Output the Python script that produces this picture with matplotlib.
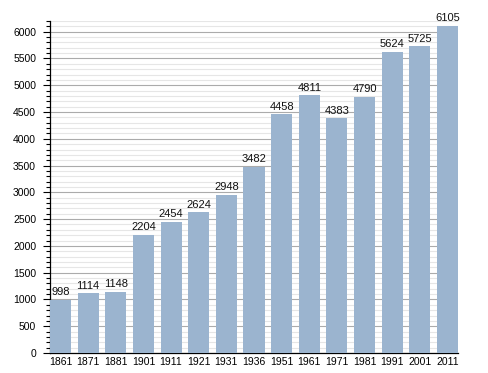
import matplotlib
matplotlib.use("Agg")
import matplotlib.pyplot as plt
from matplotlib.ticker import MultipleLocator

years = ["1861", "1871", "1881", "1901", "1911", "1921", "1931", "1936",
         "1951", "1961", "1971", "1981", "1991", "2001", "2011"]
population = [998, 1114, 1148, 2204, 2454, 2624, 2948, 3482,
              4458, 4811, 4383, 4790, 5624, 5725, 6105]

plt.rcParams['font.family'] = ['Liberation Sans', 'DejaVu Sans']

fig = plt.figure(figsize=(4.88, 3.73), dpi=100)
ax = fig.add_axes([50/488, 20/373, 408/488, 332/373])

x = list(range(len(years)))
bw = 0.76
ax.bar(x, population, width=bw, color="#9bb4cf", zorder=3)
for xi, v in zip(x, population):
    ax.text(xi, v + 50, str(v), ha="center", va="bottom", fontsize=8, color="#111111", zorder=4)

ax.set_xlim(-bw/2, len(years) - 1 + bw/2)
ax.set_ylim(0, 6200)
ax.yaxis.set_major_locator(MultipleLocator(500))
ax.yaxis.set_minor_locator(MultipleLocator(100))
ax.grid(which="major", axis="y", color="#ababab", linewidth=0.8, zorder=1)
ax.grid(which="minor", axis="y", color="#e6e6e6", linewidth=0.8, zorder=0)

ax.set_xticks(x)
ax.set_xticklabels(years)
ax.tick_params(axis="x", length=0, labelsize=7.5, pad=3)
ax.tick_params(axis="y", which="major", length=5, width=0.8, labelsize=7.5, direction="out", pad=5)
ax.tick_params(axis="y", which="minor", length=3, width=0.8, direction="out")

for s in ["top", "right"]:
    ax.spines[s].set_visible(False)
ax.spines["left"].set_linewidth(0.9)
ax.spines["bottom"].set_linewidth(0.9)

fig.savefig("out.png", dpi=100)
